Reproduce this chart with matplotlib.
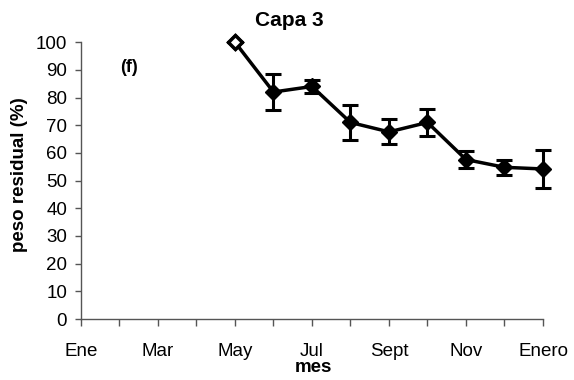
import numpy as np
import matplotlib.pyplot as plt

plt.rcParams['font.family'] = ['Liberation Sans', 'DejaVu Sans']

# month index (0 = Ene ... 12 = Enero)
months = [4, 5, 6, 7, 8, 9, 10, 11, 12]
peso = [100, 82, 84, 71, 67.6, 71, 57.6, 54.8, 54.2]
err = [0, 6.5, 2.5, 6.2, 4.5, 5.0, 3.0, 2.8, 7.0]
tick_pos = [0, 2, 4, 6, 8, 10, 12]
tick_lab = ['Ene', 'Mar', 'May', 'Jul', 'Sept', 'Nov', 'Enero']

fig = plt.figure(figsize=(5.74, 3.80), dpi=100)
ax = fig.add_axes([0.141, 0.1605, 0.805, 0.7285])

lines = ax.errorbar(months, peso, yerr=err, color='black', lw=2.5,
                    marker='D', ms=8, mfc='black', mec='black',
                    capsize=6, capthick=2.2, elinewidth=2.2, zorder=3)
for art in lines.lines[0:1] + tuple(lines.lines[1]) + tuple(lines.lines[2]):
    art.set_clip_on(False)
# first point drawn open
ax.plot(months[:1], peso[:1], 'D', ms=7, mfc='white', mec='black', mew=2.5,
        zorder=4, clip_on=False)

ax.set_xlim(0, 12)
ax.set_ylim(0, 100)
ax.set_yticks(np.arange(0, 101, 10))
ax.set_xticks(tick_pos)
ax.set_xticklabels(tick_lab)
ax.set_xticks(range(13), minor=True)

for s in ['top', 'right']:
    ax.spines[s].set_visible(False)
for s in ['left', 'bottom']:
    ax.spines[s].set_color('#555555')
    ax.spines[s].set_linewidth(1.0)

ax.tick_params(axis='y', direction='out', length=4, width=1, color='#555555',
               labelsize=13.5, pad=6)
ax.tick_params(axis='x', which='both', direction='out', length=5, width=1,
               color='#555555', labelsize=13.5, pad=12)

ax.set_ylabel('peso residual (%)', fontsize=13.5, fontweight='bold')
ax.yaxis.set_label_coords(-0.115, 0.52)
ax.set_xlabel('mes', fontsize=13.5, fontweight='bold')
ax.xaxis.set_label_coords(0.503, -0.145)
ax.set_title('Capa 3', fontsize=15, fontweight='bold', x=0.452, pad=12)
ax.text(0.084, 0.91, '(f)', transform=ax.transAxes, fontsize=13,
        fontweight='bold', va='center')

plt.savefig('out.png', dpi=100)
